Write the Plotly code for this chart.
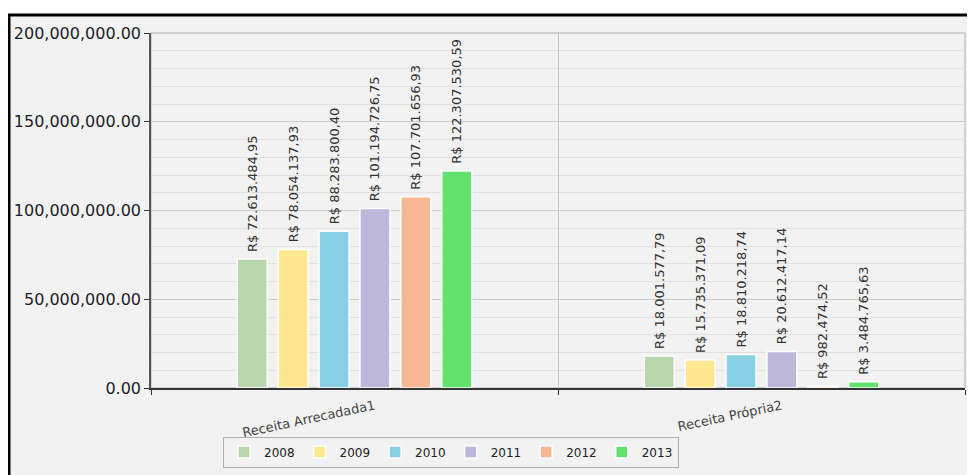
import plotly.graph_objects as go

categories = ["Receita Arrecadada1", "Receita Própria2"]
years = ["2008", "2009", "2010", "2011", "2012", "2013"]
v2008 = [72613484.95, 18001577.79]
v2009 = [78054137.93, 15735371.09]
v2010 = [88283800.40, 18810218.74]
v2011 = [101194726.75, 20612417.14]
v2012 = [107701656.93, 982474.52]
v2013 = [122307530.59, 3484765.63]
series = [v2008, v2009, v2010, v2011, v2012, v2013]
colors = ["#b9d7ad", "#ffe891", "#89d0e5", "#bdb7db", "#f7b795", "#63e16d"]

y_ticks = [0, 50e6, 100e6, 150e6, 200e6]


def brl(v):
    s = f"{v:,.2f}"
    s = s.replace(",", "X").replace(".", ",").replace("X", ".")
    return "\u00a0R$ " + s


# page body adds an 8px offset to the figure
OFF = 8
W, H = 975, 475
ML, MT = 151 - OFF, 33 - OFF
PW, PH = 965 - 151, 388 - 33
MR = W - ML - PW
MB = H - MT - PH

fig = go.Figure()
for yr, vals, col in zip(years, series, colors):
    fig.add_trace(go.Bar(
        name=yr, x=categories, y=vals,
        marker=dict(color=col, line=dict(color="rgba(255,255,255,0.95)", width=1.5)),
        text=[brl(v) for v in vals],
        textposition="outside", textangle=-90, constraintext="none",
        textfont=dict(family="DejaVu Sans", size=13, color="#333333"),
        cliponaxis=False,
    ))

# outer framed panel (paper coords computed from margins)
fig.add_shape(type="rect", xref="paper", yref="paper", layer="below",
              x0=(9 - OFF - ML) / PW, x1=(W + 20 - ML) / PW,
              y0=-(H + 20 - MT - PH) / PH, y1=1 + (MT - (15 - OFF)) / PH,
              fillcolor="#f2f2f2", line=dict(color="black", width=3))
# plot-area light border
fig.add_shape(type="rect", xref="paper", yref="paper", layer="below",
              x0=0, x1=1, y0=0, y1=1,
              fillcolor="rgba(0,0,0,0)", line=dict(color="#d0d0d0", width=2))

fig.update_layout(
    width=W, height=H,
    margin=dict(l=ML, r=MR, t=MT, b=MB, pad=0, autoexpand=False),
    paper_bgcolor="white", plot_bgcolor="#f2f2f2",
    barmode="group", bargap=0.397, bargroupgap=0.267,
    font=dict(family="DejaVu Sans", color="#333333"),
    showlegend=True,
    legend=dict(orientation="h", x=(451 - 151) / PW, y=(388 - 452) / PH,
                xanchor="center", yanchor="middle",
                bgcolor="#f2f2f2", bordercolor="#b0b0b0", borderwidth=1,
                font=dict(family="DejaVu Sans", size=12, color="#222222"),
                itemwidth=30),
)
fig.update_xaxes(
    type="category", tickson="boundaries", showgrid=True, gridcolor="#c8c8c8", gridwidth=1,
    showline=True, linecolor="#333333", linewidth=1.5, automargin=False,
    ticks="outside", ticklen=5, tickcolor="#333333",
    tickangle=-12, ticklabelshift=20, ticklabelstandoff=4,
    tickfont=dict(family="DejaVu Sans", size=13, color="#444444"),
)
fig.update_yaxes(
    range=[0, 200e6], tickvals=y_ticks, tickformat=",.2f", automargin=False,
    showgrid=True, gridcolor="#cccccc", gridwidth=1,
    minor=dict(dtick=10e6, showgrid=True, gridcolor="#e1e1e1", gridwidth=1, ticks=""),
    showline=True, linecolor="#555555", linewidth=1.5,
    ticks="outside", ticklen=5, tickcolor="#333333",
    tickfont=dict(family="DejaVu Sans", size=16, color="#1e1e28"),
    zeroline=False,
)

fig.write_html("out.html")
